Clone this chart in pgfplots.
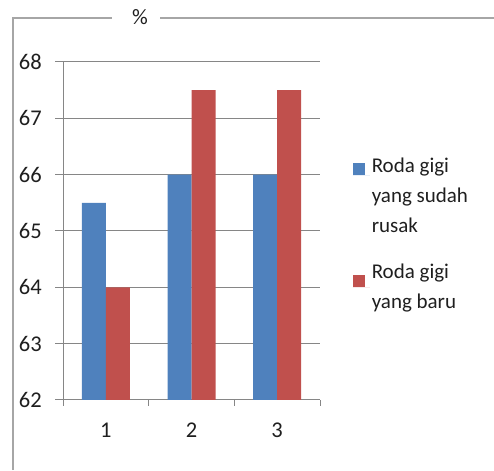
\documentclass[border=0pt]{standalone}
\usepackage{pgfplots}
\pgfplotsset{compat=1.18}
\usepackage{fontspec}
\setmainfont{Carlito}
\definecolor{cblue}{HTML}{4F81BD}
\definecolor{cred}{HTML}{C0504D}
\definecolor{cgrid}{HTML}{868686}
\definecolor{cframe}{HTML}{A6A6A6}
\definecolor{ctext}{HTML}{1F1F1F}
\begin{document}
\fontsize{21}{30}\selectfont
\begin{tikzpicture}[x=1pt,y=1pt]
\path[use as bounding box] (0,0) rectangle (494,470);
\draw[cframe,line width=1.2pt] (13,0) -- (13,452) -- (112,452);
\draw[cframe,line width=1.2pt] (160,452) -- (494,452);
\node[text=ctext,font=\fontsize{22}{26}\selectfont] at (140,453) {\%};
\begin{axis}[
  at={(63pt,70pt)}, anchor=south west,
  scale only axis, width=257pt, height=338pt,
  ymin=62, ymax=68, ytick={62,63,...,68},
  xmin=0.5, xmax=3.5, xtick={1,2,3},
  minor xtick={0.5,1.5,2.5,3.5},
  axis lines=left, axis line style={-, cgrid, line width=1pt},
  ymajorgrids, grid style={cgrid, line width=1pt},
  major x tick style={draw=none},
  minor x tick style={cgrid, line width=1pt},
  y tick style={cgrid, line width=1pt},
  tick align=outside, major tick length=8pt, minor tick length=6pt,
  tick label style={text=ctext, font=\fontsize{22.5}{26}\selectfont},
  /pgf/number format/assume math mode=true,
  yticklabel style={xshift=-6pt},
  xticklabel style={yshift=-8pt},
  ybar=0pt, bar width=24pt,
  legend style={draw=none, fill=none, at={(1.115,0.73)}, anchor=north west,
     text=ctext, row sep=25pt,
     nodes={align=left, font=\fontsize{21}{30}\selectfont}},
  legend cell align=left,
]
\addplot[fill=cblue, draw=none,
  legend image code/.code={\fill[cblue] (0pt,21pt) rectangle (12pt,33pt); \path (0pt,21pt) -- (17pt,21pt);}]
  coordinates {(1,65.5) (2,66) (3,66)};
\addplot[fill=cred, draw=none,
  legend image code/.code={\fill[cred] (0pt,1pt) rectangle (12pt,13pt); \path (0pt,1pt) -- (17pt,1pt);}]
  coordinates {(1,64) (2,67.5) (3,67.5)};
\legend{{Roda gigi\\yang sudah\\rusak},{Roda gigi\\yang baru}}
\end{axis}
\end{tikzpicture}
\end{document}
